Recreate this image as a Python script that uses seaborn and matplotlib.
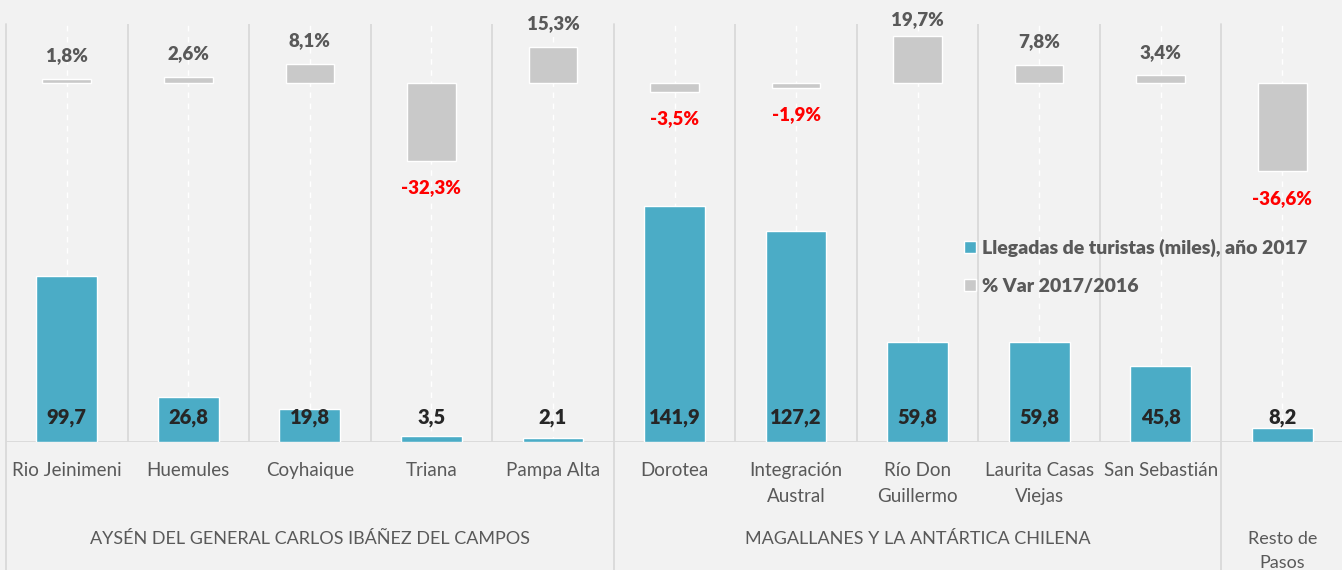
import matplotlib
matplotlib.use("Agg")
import matplotlib.pyplot as plt
import numpy as np
import pandas as pd
import seaborn as sns
from matplotlib.patches import Patch
from matplotlib.lines import Line2D

# Data
categories = ["Rio Jeinimeni", "Huemules", "Coyhaique", "Triana", "Pampa Alta",
              "Dorotea", "Integración\nAustral", "Río Don\nGuillermo",
              "Laurita Casas\nViejas", "San Sebastián", ""]
llegadas = [99.7, 26.8, 19.8, 3.5, 2.1, 141.9, 127.2, 59.8, 59.8, 45.8, 8.2]
var_pct = [1.8, 2.6, 8.1, -32.3, 15.3, -3.5, -1.9, 19.7, 7.8, 3.4, -36.6]
groups = ["AYSÉN DEL GENERAL CARLOS IBÁÑEZ DEL CAMPOS",
          "MAGALLANES Y LA ANTÁRTICA CHILENA",
          "Resto de\nPasos"]
group_sizes = [5, 5, 1]

TEAL = "#4BACC6"
GREY = "#C9C9C9"
BG = "#F2F2F2"
LINE = "#D9D9D9"
TXT = "#595959"

sns.set_theme(style="white")
plt.rcParams["font.family"] = ["Lato", "DejaVu Sans"]

df = pd.DataFrame({"paso": categories, "llegadas": llegadas, "var": var_pct})

fig = plt.figure(figsize=(13.42, 5.70), dpi=100, facecolor=BG)
W, H = 1342, 570
ax = fig.add_axes([6 / W, 1 - 441.5 / H, 1337 / W, 417.5 / H])
ax.set_facecolor(BG)
ax2 = ax.twinx()
ax2.patch.set_visible(False)

sns.barplot(data=df, x="paso", y="llegadas", order=categories, ax=ax,
            color=TEAL, saturation=1, width=0.5, zorder=3)
sns.barplot(data=df, x="paso", y="var", order=categories, ax=ax2,
            color=GREY, saturation=1, width=0.4, zorder=3)

ax.set_ylim(0, 252)
ax2.set_ylim(-149.25, 24.7)
ax.set_xlim(-0.5, len(categories) - 0.5)

for a in (ax, ax2):
    a.set_xlabel("")
    a.set_ylabel("")
    a.set_yticks([])
    for s in a.spines.values():
        s.set_visible(False)

# dashed white gridlines at category centres
for i in range(len(categories)):
    ax.axvline(i, color="white", lw=1, ls=(0, (4, 4)), zorder=1)

# separators between categories
bounds = np.cumsum([0] + group_sizes) - 0.5
for i in range(len(categories)):
    x = i - 0.5
    if x in bounds:
        ax.add_line(Line2D([x, x], [-0.35, 1], transform=ax.get_xaxis_transform(),
                           color=LINE, lw=1.3, clip_on=False, zorder=2))
    else:
        ax.axvline(x, color=LINE, lw=1.3, zorder=2)
ax.axhline(0, color=LINE, lw=1.3, zorder=2)

# x tick labels
ax.set_xticks(range(len(categories)))
ax.set_xticklabels(categories, color=TXT, fontsize=13.5, linespacing=1.65)
ax.tick_params(axis="x", length=0, pad=15)

# group labels
start = 0
for g, n in zip(groups, group_sizes):
    centre = start + (n - 1) / 2
    ax.text(centre, (441.5 - 531) / 417.5, g, transform=ax.get_xaxis_transform(),
            ha="center", va="top", color=TXT, fontsize=13, linespacing=1.65)
    start += n

# value labels
for i, v in enumerate(llegadas):
    ax.annotate(f"{v:.1f}".replace(".", ","), (i, 0), xytext=(0, 24),
                textcoords="offset pixels", ha="center", va="center",
                fontsize=14.5, fontweight="heavy", color="#262626", zorder=5)

# % labels: kept inside the chart area like the original
for i, v in enumerate(var_pct):
    txt = f"{v:.1f}%".replace(".", ",")
    ypix = ax2.transData.transform((i, v))[1]
    if v >= 0:
        yl = min(ypix + 23, H - 19.5)
        col = TXT
    else:
        yl = ypix - 27
        col = "#FF0000"
    ax2.annotate(txt, (i, v), xytext=(0, yl - ypix), textcoords="offset pixels",
                 ha="center", va="center", fontsize=13.5, fontweight="heavy", color=col)

handles = [Patch(facecolor=TEAL, label="Llegadas de turistas (miles), año 2017"),
           Patch(facecolor=GREY, label="% Var 2017/2016")]
leg = fig.legend(handles=handles, loc="upper left", bbox_to_anchor=(964 / W, 1 - 239 / H),
                 frameon=False, handlelength=0.6, handleheight=0.6, handletextpad=0.35,
                 labelspacing=1.05, borderpad=0, borderaxespad=0,
                 prop={"weight": "heavy", "size": 14})
for t in leg.get_texts():
    t.set_color(TXT)

fig.savefig("out.png", dpi=100, facecolor=BG)
